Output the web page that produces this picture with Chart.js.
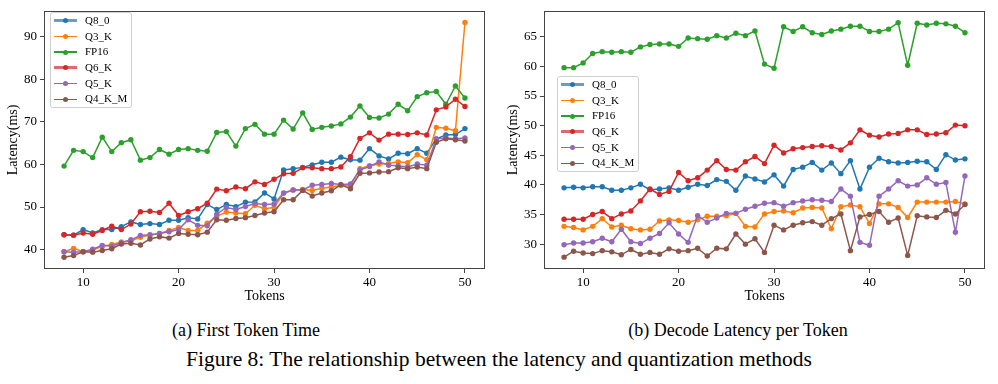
<!DOCTYPE html>
<html>
<head>
<meta charset="utf-8">
<script src="https://cdn.jsdelivr.net/npm/chart.js@4.4.1/dist/chart.umd.min.js"></script>
<style>
  body { margin: 0; background: #fff; font-family: 'Liberation Serif', 'Times New Roman', serif; color: #000; }
  #page { position: relative; width: 998px; height: 384px; overflow: hidden; }
  .panel { position: absolute; top: 0; width: 498px; height: 310px; }
  #panelA { left: 0; }
  #panelB { left: 500px; }
  .legend { position: absolute; width: 82px; background: rgba(255,255,255,0.85); border: 1px solid #d0d0d0;
            border-radius: 3px; box-sizing: border-box; font-size: 11px; }
  .legend .row { position: relative; height: 15.7px; line-height: 15.7px; padding-left: 34px; white-space: nowrap; }
  .legend .sw { position: absolute; left: 3px; top: 50%; width: 23px; }
  .legend .ln { position: absolute; left: 0; width: 23px; }
  .legend .dot { position: absolute; left: 9px; top: -2.5px; width: 5px; height: 5px; border-radius: 50%; }
  .cap { position: absolute; white-space: nowrap; line-height: 1; transform: translateX(-50%); }
</style>
</head>
<body>
<div id="page">
  <div class="panel" id="panelA"><canvas id="chartA" width="498" height="310"></canvas></div>
  <div class="panel" id="panelB"><canvas id="chartB" width="498" height="310"></canvas></div>
  <div class="legend" id="legendA" style="left:50px; top:12px;"></div>
  <div class="legend" id="legendB" style="left:557px; top:76px;"></div>
  <div class="cap" style="left:246px; top:321px; font-size:18px;">(a) First Token Time</div>
  <div class="cap" style="left:738px; top:321px; font-size:18px;">(b) Decode Latency per Token</div>
  <div class="cap" style="left:499px; top:348.5px; font-size:21.5px;">Figure 8: The relationship between the latency and quantization methods</div>
</div>
<script>
var tokens = [8, 9, 10, 11, 12, 13, 14, 15, 16, 17, 18, 19, 20, 21, 22, 23, 24, 25, 26, 27, 28, 29,
              30, 31, 32, 33, 34, 35, 36, 37, 38, 39, 40, 41, 42, 43, 44, 45, 46, 47, 48, 49, 50];
var methods = ['Q8_0', 'Q3_K', 'FP16', 'Q6_K', 'Q5_K', 'Q4_K_M'];
var colors = ['#1f77b4', '#ff7f0e', '#2ca02c', '#d62728', '#9467bd', '#8c564b'];

// (a) first token time, ms
var ftQ8_0   = [43.5,43.4,44.7,43.9,44.7,44.7,45.4,46.5,45.9,46.1,45.9,46.9,46.9,47.5,47.2,50.6,49.4,50.6,50.1,51.1,51.2,53.3,51.9,58.7,59.0,59.3,59.9,60.5,60.5,61.7,61.1,61.0,63.7,62.0,61.3,62.6,62.5,63.7,62.6,66.0,66.9,67.0,68.4];
var ftQ3_K   = [39.5,40.3,39.5,39.9,40.8,41.2,41.8,42.0,42.9,43.4,43.8,44.5,45.2,44.5,44.5,46.2,47.8,48.8,48.6,48.4,50.4,49.6,49.9,53.2,54.0,54.1,53.9,54.4,54.7,55.1,54.9,59.0,59.7,60.1,60.2,60.6,60.4,62.3,61.1,68.7,68.5,67.9,93.3];
var ftFP16   = [59.6,63.3,63.0,61.6,66.4,63.0,65.1,65.8,61.0,61.6,63.5,62.4,63.5,63.7,63.3,63.1,67.5,67.7,64.3,68.4,69.4,67.1,67.1,70.4,68.3,72.1,68.2,68.7,69.0,69.5,71.1,73.7,71.0,70.9,71.8,74.1,72.6,75.9,76.8,77.1,74.1,78.4,75.6];
var ftQ6_K   = [43.5,43.4,43.9,43.6,44.5,45.5,44.7,46.0,48.9,49.0,48.7,50.9,48.0,48.9,49.6,50.9,54.2,53.8,54.7,54.3,55.9,55.3,56.5,57.8,57.9,59.2,59.2,59.0,59.0,59.4,61.8,66.1,67.4,65.7,67.1,67.1,67.0,67.4,66.9,72.8,73.5,75.3,73.6];
var ftQ5_K   = [39.5,39.4,39.5,40.1,41.0,40.8,41.6,42.3,43.3,43.5,43.8,44.2,44.7,47.0,45.7,45.6,48.3,49.9,49.4,50.1,50.8,50.6,50.7,53.3,54.0,54.0,55.1,55.3,55.5,55.3,55.4,58.7,59.5,60.6,59.8,59.7,59.4,60.1,59.8,66.0,66.2,66.0,66.2];
var ftQ4_K_M = [38.2,38.6,39.5,39.4,39.8,40.2,41.3,41.5,41.1,42.5,43.0,42.7,43.8,43.6,43.5,44.1,47.0,46.9,47.3,47.5,48.0,48.6,48.9,51.7,51.7,53.9,52.6,53.3,53.8,55.2,54.3,57.9,58.0,58.2,58.3,59.2,59.0,59.4,59.0,65.2,66.0,65.8,65.5];

// (b) decode latency per token, ms
var dlQ8_0   = [39.5,39.6,39.5,39.7,39.7,39.1,39.1,39.5,40.1,39.2,39.3,39.5,39.1,39.6,40.1,39.9,40.9,40.6,39.1,41.5,41.0,40.5,41.7,39.8,42.6,43.0,43.8,42.5,43.7,41.9,44.1,39.3,43.0,44.5,43.9,43.7,43.8,44.0,43.9,42.6,45.1,44.2,44.4];
var dlQ3_K   = [33.0,32.8,32.4,33.0,34.3,32.9,33.2,32.6,32.4,32.5,33.9,34.1,34.0,33.7,34.1,34.7,34.7,34.8,35.2,33.0,32.9,35.1,35.5,35.6,35.3,36.1,36.2,36.1,32.6,36.3,36.6,36.3,33.5,36.8,36.8,36.2,34.5,37.1,37.1,37.1,37.1,37.2,36.8];
var dlFP16   = [59.8,59.8,60.6,62.2,62.5,62.4,62.5,62.4,63.3,63.7,63.8,63.8,63.4,64.8,64.7,64.6,65.2,64.8,65.6,65.2,66.0,60.4,59.7,66.7,65.9,66.7,65.7,65.4,66.0,66.3,66.8,66.8,65.9,65.9,66.3,67.4,60.2,67.3,67.0,67.3,67.2,66.8,65.7];
var dlQ6_K   = [34.2,34.2,34.2,35.0,35.5,34.3,35.1,35.6,37.3,39.3,38.4,38.9,42.1,40.7,41.2,42.5,44.1,42.6,42.5,43.9,44.8,43.6,46.7,45.4,46.1,46.3,46.5,46.6,46.5,45.9,47.1,49.3,48.4,48.1,48.6,48.7,49.3,49.3,48.5,48.6,48.8,50.1,50.0];
var dlQ5_K   = [29.9,30.2,30.2,30.4,31.0,30.4,32.5,30.4,30.1,31.0,31.8,33.6,31.7,30.3,34.8,33.7,34.4,35.2,35.2,35.9,36.4,36.9,37.0,36.4,37.0,37.3,37.5,37.4,37.2,39.3,38.1,30.3,29.8,38.1,39.3,40.7,39.8,40.0,41.2,40.1,40.4,32.0,41.5];
var dlQ4_K_M = [27.8,28.8,28.5,28.4,28.9,28.7,28.2,29.1,28.3,28.6,28.3,29.2,28.8,28.9,29.3,28.0,29.3,29.2,31.7,30.0,30.9,28.6,33.2,32.4,33.2,33.6,33.8,33.2,34.3,35.1,28.9,34.6,35.0,35.5,33.7,34.4,28.1,34.8,34.6,34.5,35.7,35.1,36.7];

var xTicks = [10, 20, 30, 40, 50];
var yTicksA = [40, 50, 60, 70, 80, 90];
var yTicksB = [30, 35, 40, 45, 50, 55, 60, 65];

var FONT = "'Liberation Serif', 'Times New Roman', serif";
var AXIS = '#444';

// matplotlib draws a box on all four sides
var framePlugin = {
    id: 'frame',
    afterDraw: function(chart) {
        var a = chart.chartArea, ctx = chart.ctx;
        ctx.save();
        ctx.strokeStyle = AXIS;
        ctx.lineWidth = 1;
        ctx.strokeRect(Math.round(a.left) + 0.5, Math.round(a.top) + 0.5,
                       Math.round(a.right - a.left) - 1, Math.round(a.bottom - a.top) - 1);
        ctx.restore();
    }
};

function makeChart(id, series, yMin, yMax, yTicks) {
    var datasets = series.map(function(vals, i) {
        return {
            label: methods[i],
            data: tokens.map(function(t, j) { return { x: t, y: vals[j] }; }),
            borderColor: colors[i],
            backgroundColor: colors[i],
            borderWidth: 1.5,
            pointRadius: 2.7,
            pointBorderWidth: 0,
            pointBackgroundColor: colors[i],
            order: series.length - i
        };
    });
    return new Chart(document.getElementById(id).getContext('2d'), {
        type: 'line',
        data: { datasets: datasets },
        plugins: [framePlugin],
        options: {
            responsive: false,
            animation: false,
            layout: { padding: { top: 7, right: 13, left: 0, bottom: 0 } },
            plugins: { legend: { display: false }, tooltip: { enabled: false } },
            scales: {
                x: {
                    type: 'linear', min: 5.9, max: 52.1,
                    afterBuildTicks: function(s) { s.ticks = xTicks.map(function(v) { return { value: v }; }); },
                    afterFit: function(s) { s.height = 41; },
                    grid: { drawOnChartArea: false, tickLength: 4, color: AXIS },
                    border: { display: false },
                    ticks: { color: '#000', font: { family: FONT, size: 13 }, padding: 2, maxRotation: 0, autoSkip: false },
                    title: { display: true, text: 'Tokens', color: '#000', font: { family: FONT, size: 14 }, padding: { top: 0, bottom: 5.5 } }
                },
                y: {
                    type: 'linear', min: yMin, max: yMax,
                    afterBuildTicks: function(s) { s.ticks = yTicks.map(function(v) { return { value: v }; }); },
                    afterFit: function(s) { s.width = 44; },
                    grid: { drawOnChartArea: false, tickLength: 4, color: AXIS },
                    border: { display: false },
                    ticks: { color: '#000', font: { family: FONT, size: 13 }, padding: 3 },
                    title: { display: true, text: 'Latency(ms)', color: '#000', font: { family: FONT, size: 14 }, padding: { top: 5, bottom: 0 } }
                }
            }
        }
    });
}

function makeLegend(id) {
    var box = document.getElementById(id);
    methods.forEach(function(m, i) {
        // Q8_0 and Q6_K have the wider, lighter swatch in the original
        var heavy = (m === 'Q8_0' || m === 'Q6_K');
        var lw = heavy ? 3 : 1.5;
        var row = document.createElement('div');
        row.className = 'row';
        row.innerHTML = '<span class="sw"><span class="ln" style="top:' + (-lw / 2) + 'px;height:' + lw + 'px;background:' + colors[i] +
            ';opacity:' + (heavy ? 0.7 : 1) + '"></span><span class="dot" style="background:' + colors[i] + '"></span></span>' + m;
        box.appendChild(row);
    });
}

makeChart('chartA', [ftQ8_0, ftQ3_K, ftFP16, ftQ6_K, ftQ5_K, ftQ4_K_M], 35.45, 96.05, yTicksA);
makeChart('chartB', [dlQ8_0, dlQ3_K, dlFP16, dlQ6_K, dlQ5_K, dlQ4_K_M], 25.8, 69.4, yTicksB);
makeLegend('legendA');
makeLegend('legendB');
</script>
</body>
</html>
